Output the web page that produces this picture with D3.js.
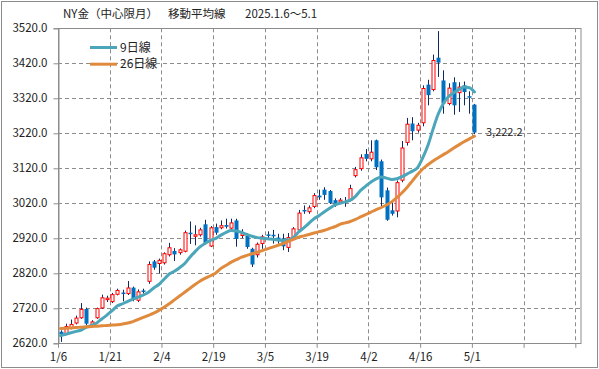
<!DOCTYPE html>
<html>
<head>
<meta charset="utf-8">
<script src="https://cdn.jsdelivr.net/npm/d3@7"></script>
<style>
body { margin: 0; background: #fff; }
svg { display: block; }
</style>
</head>
<body>
<svg id="chart"></svg>
<script>
// NY gold daily candles, 2025.1.6 - 5.1
const dates = ["1/6","1/7","1/8","1/9","1/10","1/13","1/14","1/15","1/16","1/17",
    "1/21","1/22","1/23","1/24","1/27","1/28","1/29","1/30","1/31","2/3",
    "2/4","2/5","2/6","2/7","2/10","2/11","2/12","2/13","2/14","2/18",
    "2/19","2/20","2/21","2/24","2/25","2/26","2/27","2/28","3/3","3/4",
    "3/5","3/6","3/7","3/10","3/11","3/12","3/13","3/14","3/17","3/18",
    "3/19","3/20","3/21","3/24","3/25","3/26","3/27","3/28","3/31","4/1",
    "4/2","4/3","4/4","4/7","4/8","4/9","4/10","4/11","4/14","4/15",
    "4/16","4/17","4/21","4/22","4/23","4/24","4/25","4/28","4/29","4/30","5/1"];
const opens = [2653,2648,2665,2678,2693,2718,2674,2693,2721,2745,
    2739,2760,2765,2762,2779,2743,2771,2797,2854,2848,
    2850,2873,2884,2879,2883,2936,2926,2930,2960,2898,
    2952,2950,2958,2949,2971,2928,2928,2890,2873,2905,
    2931,2930,2922,2919,2894,2919,2944,3001,2996,3011,
    3042,3059,3055,3029,3024,3026,3029,3099,3119,3161,
    3147,3200,3140,3057,3000,2998,3086,3194,3248,3229,
    3250,3359,3345,3436,3371,3305,3366,3336,3357,3326,3302];
const highs = [2657,2676,2688,2699,2735,2722,2686,2722,2759,2756,
    2764,2776,2773,2798,2782,2774,2776,2854,2858,2862,
    2880,2907,2892,2891,2942,2968,2957,2950,2973,2955,
    2962,2971,2976,2976,2976,2946,2934,2893,2908,2930,
    2940,2944,2933,2933,2935,2952,3001,3014,3014,3049,
    3059,3066,3058,3034,3035,3038,3073,3124,3160,3175,
    3200,3202,3145,3065,3024,3085,3198,3264,3266,3250,
    3357,3373,3445,3512,3400,3363,3380,3366,3368,3340,3304];
const lows = [2624,2644,2660,2674,2690,2672,2668,2690,2718,2738,
    2735,2757,2740,2758,2740,2738,2762,2790,2830,2820,
    2845,2868,2855,2873,2880,2904,2900,2925,2903,2895,
    2930,2946,2948,2944,2896,2920,2890,2838,2865,2890,
    2915,2905,2905,2886,2881,2915,2940,2990,2990,3006,
    3030,3030,3018,3010,3018,3010,3025,3094,3113,3140,
    3140,3115,3010,2970,2985,2980,3080,3185,3200,3222,
    3240,3300,3340,3381,3276,3300,3273,3281,3300,3276,3218];
const closes = [2646,2668,2674,2692,2717,2676,2681,2719,2750,2749,
    2759,2771,2761,2778,2745,2767,2768,2845,2836,2857,
    2876,2893,2874,2887,2936,2932,2930,2944,2907,2950,
    2936,2956,2953,2964,2918,2933,2895,2845,2903,2924,
    2927,2927,2912,2897,2922,2947,2992,2998,3007,3042,
    3037,3044,3021,3019,3029,3024,3062,3116,3150,3147,
    3166,3123,3037,2973,2990,3079,3178,3246,3226,3243,
    3348,3329,3428,3422,3305,3349,3300,3352,3338,3323,3222.2];
const ma9 = [2642,2646,2650,2654,2658,2666,2671,2678,2690,2701,
    2714,2727,2733,2740,2746,2752,2758,2766,2778,2788,
    2803,2818,2826,2836,2848,2866,2882,2896,2906,2914,
    2920,2929,2937,2942,2941,2937,2931,2926,2922,2920,
    2919,2917,2915,2914,2915,2922,2938,2950,2963,2976,
    2985,2996,3006,3015,3020,3024,3029,3040,3057,3069,
    3081,3090,3095,3092,3088,3090,3096,3104,3112,3122,
    3150,3185,3232,3275,3305,3325,3336,3345,3352,3350,3338];
const ma26 = [2662,2663,2664,2665,2666,2667,2668,2669,2670,2671,
    2672,2673,2675,2678,2682,2688,2694,2700,2706,2714,
    2723,2733,2744,2755,2766,2777,2788,2798,2806,2813,
    2821,2834,2843,2852,2859,2866,2871,2876,2880,2885,
    2890,2895,2900,2905,2911,2917,2923,2927,2931,2935,
    2939,2943,2948,2953,2960,2964,2968,2974,2981,2988,
    2995,3002,3008,3015,3024,3036,3050,3066,3084,3102,
    3118,3130,3141,3150,3159,3168,3178,3187,3196,3204,3212];
const yTicks = [2620,2720,2820,2920,3020,3120,3220,3320,3420,3520];
const seriesNames = ["9日線", "26日線"];
const seriesColors = ["#4BA6BA", "#E08A3E"];

const width = 599, height = 369;
const plotLeft = 58, plotRight = 580.5, plotTop = 28.3, plotBottom = 343.3;
const font = '"Noto Sans CJK JP", "Noto Sans", sans-serif';

const svg = d3.select('#chart').attr('width', width).attr('height', height);

// slots: 101 category bins, labels every 10
const x = d3.scaleLinear().domain([0, 101]).range([plotLeft, plotRight]);
const y = d3.scaleLinear().domain([2620, 3520]).range([plotBottom, plotTop]);
const cx = i => Math.round(x(i + 0.5));

svg.append('rect')
    .attr('x', 1.5).attr('y', 1.5)
    .attr('width', width - 3).attr('height', height - 3)
    .attr('fill', 'white').attr('stroke', '#8c8c8c');

// grid
const grid = svg.append('g').attr('stroke', '#8c8c8c').attr('stroke-dasharray', '4,3');
grid.selectAll('line.h')
    .data(yTicks.slice(1, -1))
    .enter().append('line')
    .attr('class', 'h')
    .attr('x1', plotLeft).attr('x2', plotRight)
    .attr('y1', d => Math.round(y(d)) + 0.5).attr('y2', d => Math.round(y(d)) + 0.5);
grid.selectAll('line.v')
    .data(d3.range(10, 101, 10))
    .enter().append('line')
    .attr('class', 'v')
    .attr('y1', plotTop).attr('y2', plotBottom)
    .attr('x1', d => Math.round(x(d)) + 0.5).attr('x2', d => Math.round(x(d)) + 0.5);

svg.append('rect')
    .attr('x', plotLeft + 0.5).attr('y', Math.round(plotTop) + 0.5)
    .attr('width', plotRight - plotLeft).attr('height', plotBottom - plotTop)
    .attr('fill', 'none').attr('stroke', '#8c8c8c');

// y axis
const yAxis = svg.append('g')
    .attr('transform', `translate(${plotLeft + 0.5},0)`)
    .call(d3.axisLeft(y).tickValues(yTicks).tickFormat(d3.format('.1f')).tickSize(5).tickPadding(6));
yAxis.select('.domain').attr('stroke', '#8c8c8c');
yAxis.selectAll('.tick line').attr('stroke', '#8c8c8c');
yAxis.selectAll('text').attr('font-family', font).attr('font-size', '11.5px').attr('fill', '#222');

// x axis
const xAxis = svg.append('g')
    .attr('transform', `translate(0,${plotBottom + 0.5})`)
    .call(d3.axisBottom(x).tickValues(d3.range(0, 101, 10)).tickFormat(d => dates[d] || '').tickSize(4).tickPadding(5));
xAxis.select('.domain').remove();
xAxis.selectAll('.tick line').attr('stroke', '#8c8c8c');
xAxis.selectAll('text').attr('font-family', font).attr('font-size', '11.5px').attr('fill', '#222');

// candles
const candles = dates.map((d, i) => ({i: i, o: opens[i], h: highs[i], l: lows[i], c: closes[i]}));

svg.append('g').selectAll('line')
    .data(candles)
    .enter().append('line')
    .attr('x1', d => cx(d.i) + 0.5).attr('x2', d => cx(d.i) + 0.5)
    .attr('y1', d => y(d.h)).attr('y2', d => y(d.l))
    .attr('stroke', '#0f2a63').attr('stroke-width', 1);

svg.append('g').selectAll('rect')
    .data(candles)
    .enter().append('rect')
    .attr('x', d => d.c >= d.o ? cx(d.i) - 1 : cx(d.i) - 1.5)
    .attr('width', d => d.c >= d.o ? 3 : 4)
    .attr('y', d => y(Math.max(d.o, d.c)))
    .attr('height', d => Math.max(Math.abs(y(d.o) - y(d.c)), 1.5))
    .attr('fill', d => d.c >= d.o ? 'white' : '#0070C0')
    .attr('stroke', d => d.c >= d.o ? '#ff0000' : 'none')
    .attr('stroke-width', 1);

// moving averages
const line = d3.line()
    .x((d, i) => x(i + 0.5))
    .y(d => y(d))
    .curve(d3.curveMonotoneX);

[ma9, ma26].forEach((s, k) => {
    svg.append('path')
        .attr('d', line(s))
        .attr('fill', 'none')
        .attr('stroke', seriesColors[k])
        .attr('stroke-width', 3)
        .attr('stroke-linecap', 'round');
});

// legend
const legend = svg.selectAll('g.legend')
    .data(seriesNames)
    .enter().append('g')
    .attr('class', 'legend')
    .attr('transform', (d, k) => `translate(90,${47.5 + k * 16.7})`);
legend.append('line')
    .attr('x1', 0).attr('x2', 27)
    .attr('stroke', (d, k) => seriesColors[k])
    .attr('stroke-width', 3);
legend.append('text')
    .text(d => d)
    .attr('x', 30).attr('y', 0)
    .attr('dy', '0.35em')
    .attr('font-family', font).attr('font-size', '12px').attr('fill', '#222');

// title
const titleParts = [["NY金（中心限月）", 63], ["移動平均線", 168], ["2025.1.6〜5.1", 245]];
svg.selectAll('text.title')
    .data(titleParts)
    .enter().append('text')
    .attr('class', 'title')
    .text(d => d[0])
    .attr('x', d => d[1]).attr('y', 14)
    .attr('dy', '0.35em')
    .attr('font-family', font).attr('font-size', '11.5px').attr('fill', '#222');

// last close
const last = dates.length - 1;
svg.append('text')
    .text(d3.format(',.1f')(closes[last]))
    .attr('x', cx(last) + 12).attr('y', y(closes[last]))
    .attr('dy', '0.35em')
    .attr('font-family', font).attr('font-size', '11px').attr('fill', '#222');
</script>
</body>
</html>
